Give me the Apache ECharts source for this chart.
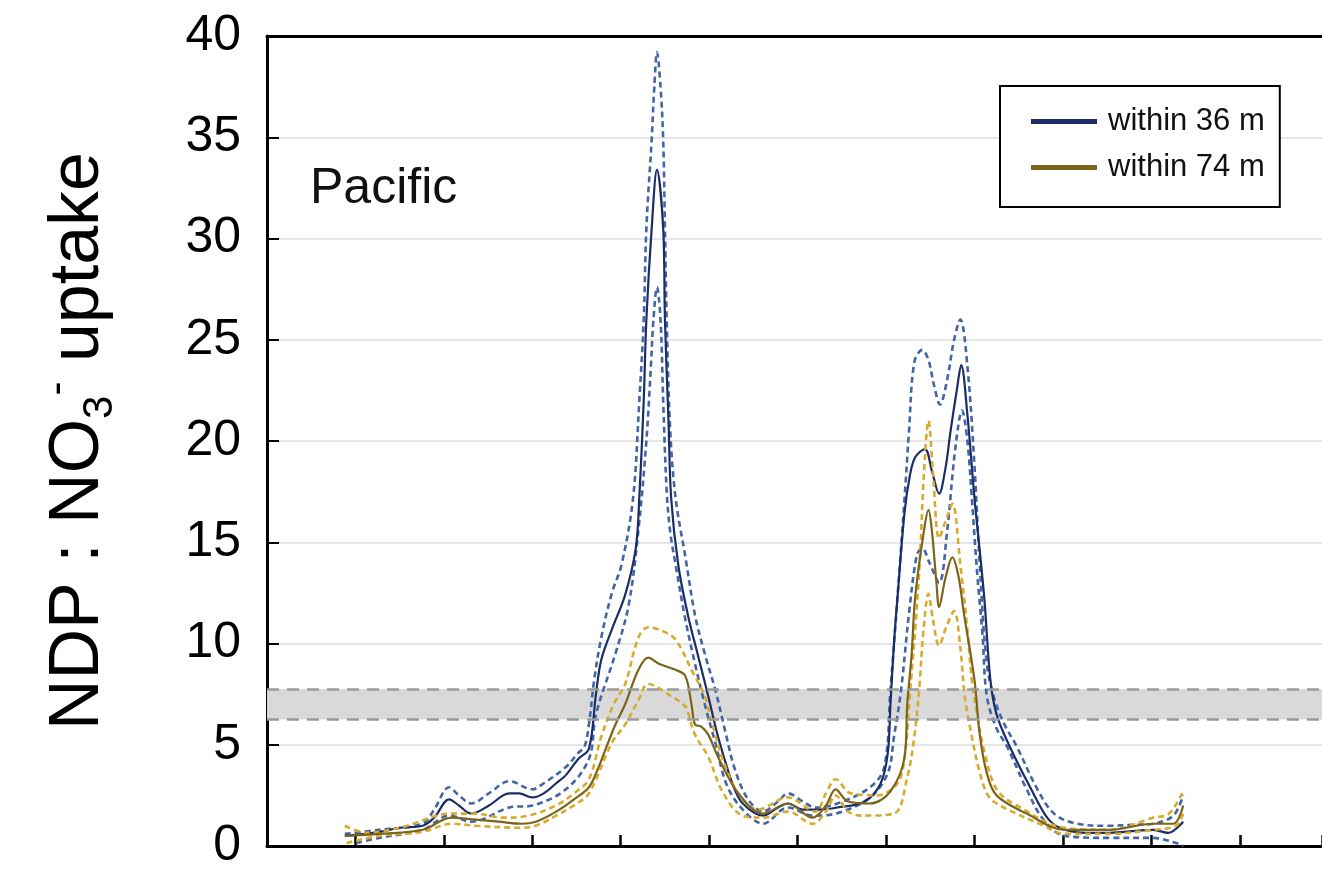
<!DOCTYPE html>
<html>
<head>
<meta charset="utf-8">
<script src="https://cdn.jsdelivr.net/npm/echarts/dist/echarts.min.js"></script>
<style>
  html, body { margin: 0; padding: 0; background: #fff; }
  #chart { width: 1322px; height: 871px; }
</style>
</head>
<body>
<div id="chart"></div>
<script>
// x is in arbitrary along-track units (one tick every 10), y is NDP : NO3- uptake
const yTicks = [0, 5, 10, 15, 20, 25, 30, 35, 40];
const band = [6.25, 7.75];

const mean36 = [[8.8,0.5],[12.7,0.7],[15.0,0.9],[17.6,1.0],[18.9,1.4],[20.6,2.3],[21.7,2.0],[23.1,1.6],[25.1,2.0],[27.4,2.6],[28.5,2.6],[30.0,2.4],[31.3,2.6],[32.7,3.1],[33.8,3.5],[35.2,4.3],[36.4,4.8],[37.2,7.5],[37.8,9.2],[39.0,10.7],[40.5,12.4],[41.7,14.7],[42.1,17.2],[42.6,22.0],[42.9,26.0],[43.5,30.5],[44.1,33.4],[44.8,30.5],[45.0,26.0],[45.4,21.0],[45.7,17.2],[46.5,13.9],[47.6,11.4],[48.8,9.3],[49.9,7.4],[51.0,5.4],[52.7,3.0],[53.8,2.1],[56.1,1.5],[57.8,1.9],[58.9,2.1],[60.6,1.8],[62.3,1.8],[64.5,1.9],[67.6,2.2],[69.4,3.1],[70.2,4.6],[70.5,7.0],[70.9,10.0],[71.3,12.3],[72.1,16.5],[72.7,18.3],[73.3,19.2],[74.4,19.6],[75.2,18.5],[76.0,17.4],[76.7,18.6],[77.3,20.5],[78.0,22.5],[78.5,23.75],[79.2,21.3],[80.0,17.2],[81.1,12.3],[81.8,8.2],[82.5,6.5],[84.0,4.9],[86.3,2.9],[88.4,1.3],[90.2,0.8],[92.7,0.65],[95.3,0.65],[98.3,0.75],[100.2,0.8],[101.9,0.65],[103.6,1.2]];
const upper36 = [[8.8,0.6],[12.7,0.8],[17.6,1.1],[18.9,1.8],[20.6,2.9],[21.7,2.5],[23.1,2.1],[25.1,2.6],[27.4,3.2],[30.0,2.8],[31.3,3.1],[33.8,3.9],[35.2,4.6],[35.9,4.9],[36.4,6.0],[37.0,8.2],[37.8,10.3],[39.0,12.5],[40.1,13.9],[41.4,17.2],[42.1,22.0],[42.6,26.0],[42.9,30.5],[43.5,34.9],[43.8,37.5],[44.1,39.2],[44.5,37.5],[44.8,34.9],[45.0,30.5],[45.2,26.0],[45.6,20.5],[46.2,17.2],[47.3,14.3],[48.4,11.4],[49.5,9.5],[50.7,7.7],[51.8,5.7],[52.9,3.8],[54.4,2.3],[56.1,1.7],[57.8,2.2],[58.9,2.6],[60.6,2.2],[62.0,1.9],[64.5,2.1],[68.2,2.9],[69.8,3.9],[70.5,7.7],[71.3,12.3],[72.1,17.2],[72.6,20.5],[73.2,23.9],[74.1,24.5],[74.8,24.0],[75.4,22.8],[76.1,21.8],[76.9,23.0],[77.7,25.0],[78.4,26.0],[79.2,23.7],[80.0,18.8],[80.6,13.9],[81.4,9.0],[82.3,7.2],[83.4,6.0],[84.8,4.9],[87.0,2.9],[89.0,1.6],[91.6,1.1],[95.0,1.0],[98.3,1.05],[100.2,1.1],[102.5,1.5],[103.6,2.5]];
const lower36 = [[10.1,0.15],[12.7,0.4],[17.6,0.8],[20.6,1.5],[23.1,1.2],[27.4,1.9],[30.0,2.0],[33.8,2.8],[36.4,4.3],[37.2,6.5],[39.4,9.5],[40.9,11.9],[42.0,15.6],[42.9,20.0],[43.4,23.6],[43.7,26.0],[44.1,27.6],[44.5,26.0],[44.8,22.0],[45.2,17.5],[45.6,15.5],[46.2,13.9],[47.3,11.2],[48.4,9.0],[49.5,7.0],[50.7,5.1],[52.0,3.0],[53.8,1.8],[56.1,1.1],[58.9,1.9],[61.7,1.5],[64.3,1.6],[68.2,2.4],[70.2,3.6],[70.9,5.4],[71.7,7.7],[72.6,11.5],[73.5,14.4],[74.1,14.7],[74.9,14.0],[76.0,13.0],[76.9,15.5],[77.8,19.5],[78.6,21.5],[79.2,20.0],[79.7,17.2],[80.3,13.5],[80.9,10.5],[81.4,7.4],[82.5,5.8],[83.7,4.9],[85.9,2.8],[87.8,1.3],[90.2,0.5],[95.3,0.4],[100.2,0.4],[102.8,0.15],[103.6,0.0]];

const mean74 = [[8.8,0.5],[12.7,0.6],[17.6,0.8],[20.9,1.4],[23.6,1.3],[26.2,1.2],[28.8,1.1],[30.4,1.2],[32.7,1.7],[34.7,2.3],[36.4,2.9],[37.5,3.9],[38.3,4.8],[39.4,6.0],[40.5,7.0],[42.0,8.7],[43.1,9.3],[44.3,9.0],[46.2,8.7],[47.3,8.4],[48.0,7.0],[48.4,6.0],[49.1,5.9],[49.9,5.5],[51.0,4.4],[53.3,2.6],[56.1,1.6],[58.9,2.1],[61.7,1.4],[63.2,2.0],[64.3,2.8],[65.7,2.2],[68.2,2.1],[70.5,2.7],[72.1,4.4],[72.4,7.0],[72.9,9.5],[73.3,12.3],[74.3,15.6],[74.8,16.6],[75.2,15.5],[75.7,13.0],[76.0,11.8],[76.7,13.2],[77.5,14.25],[78.2,13.3],[78.8,11.5],[80.0,8.2],[80.6,5.5],[81.4,3.6],[82.5,2.5],[85.9,1.6],[90.2,0.8],[95.3,0.8],[100.2,1.1],[102.5,1.1],[103.6,2.0]];
const upper74 = [[8.8,1.0],[11.3,0.65],[15.0,0.9],[20.9,1.6],[23.6,1.6],[26.6,1.4],[29.6,1.5],[32.7,2.0],[34.7,2.6],[36.4,3.3],[37.8,5.4],[39.2,7.0],[40.5,8.0],[42.0,10.3],[43.1,10.8],[44.8,10.6],[46.2,10.2],[48.0,8.7],[49.5,7.4],[50.5,5.8],[51.6,4.2],[53.3,2.6],[55.5,1.8],[58.9,2.4],[62.0,1.7],[63.2,2.6],[64.3,3.3],[66.0,2.6],[69.0,2.5],[71.3,3.1],[72.1,4.4],[72.7,7.5],[73.3,10.7],[73.8,13.9],[74.3,18.5],[74.8,21.0],[75.3,18.5],[76.0,15.2],[76.7,16.0],[77.5,16.9],[78.4,13.9],[79.2,10.7],[79.7,8.2],[80.3,6.5],[81.1,4.7],[82.5,2.8],[84.8,2.0],[90.2,0.9],[95.3,0.8],[100.2,1.4],[102.0,1.6],[103.6,2.7]];
const lower74 = [[9.0,0.15],[12.7,0.5],[17.6,0.7],[20.9,1.1],[23.6,1.0],[28.8,0.9],[30.4,1.0],[32.7,1.5],[34.7,2.0],[36.4,2.6],[39.0,5.1],[40.5,6.0],[42.0,7.2],[43.1,8.0],[45.7,7.4],[47.3,6.9],[47.6,6.6],[48.4,5.5],[49.9,4.4],[51.6,2.6],[53.8,1.5],[56.1,1.4],[58.9,1.7],[61.7,1.1],[63.2,1.7],[64.3,2.5],[65.7,1.7],[67.1,1.5],[70.9,1.6],[72.4,3.4],[73.2,5.4],[73.8,8.0],[74.2,10.5],[74.8,12.45],[75.3,11.2],[76.0,9.9],[76.8,10.8],[77.7,11.6],[78.4,9.8],[78.9,7.4],[79.7,5.4],[80.5,3.8],[81.4,2.6],[82.5,2.1],[87.8,1.0],[90.2,0.6],[95.3,0.6],[100.2,0.8],[102.8,1.0],[103.6,1.6]];

const FONT = '"Liberation Sans", Arial, Helvetica, sans-serif';
const NAVY = '#1b2c66', NAVY_DASH = '#4266a3';
const GOLD = '#7c6419', GOLD_DASH = '#d8ab2c';

function line(name, data, color, dashed) {
  return {
    name: name,
    type: 'line',
    data: data,
    smooth: 0.35,
    showSymbol: false,
    symbol: 'none',
    z: 3,
    itemStyle: { color: color },
    lineStyle: {
      color: color,
      width: dashed ? 2.6 : 2.2,
      type: dashed ? [6, 4] : 'solid'
    }
  };
}

const chart = echarts.init(document.getElementById('chart'));
chart.setOption({
  animation: false,
  textStyle: { fontFamily: FONT },
  grid: { left: 267, right: -4, top: 36, bottom: 19 },
  title: {
    text: 'Pacific',
    left: 310,
    top: 164,
    padding: 0,
    textStyle: { fontFamily: FONT, fontSize: 50, fontWeight: 'normal', color: '#111' }
  },
  legend: {
    data: ['within 36 m', 'within 74 m'],
    orient: 'vertical',
    left: 1000,
    top: 86,
    padding: [20, 15, 24, 31],
    itemGap: 15,
    itemWidth: 66,
    itemHeight: 5,
    icon: 'rect',
    borderColor: '#000',
    borderWidth: 2,
    backgroundColor: '#fff',
    textStyle: { fontFamily: FONT, fontSize: 31, color: '#111', padding: [0, 0, 0, 6] }
  },
  xAxis: [{
    type: 'value',
    min: 0,
    max: 119.3,
    interval: 10,
    axisLine: { lineStyle: { color: '#000', width: 3 } },
    axisTick: { inside: true, length: 11, lineStyle: { color: '#000', width: 2.5 } },
    axisLabel: { show: false },
    splitLine: { show: false }
  }, {
    type: 'value',
    position: 'top',
    min: 0,
    max: 119.3,
    axisLine: { show: true, onZero: false, lineStyle: { color: '#000', width: 3 } },
    axisTick: { show: false },
    axisLabel: { show: false },
    splitLine: { show: false }
  }],
  yAxis: {
    type: 'value',
    min: yTicks[0],
    max: yTicks[yTicks.length - 1],
    interval: 5,
    name: '{t|NDP : NO}{s|3}{p|-}{t| uptake}',
    nameLocation: 'middle',
    nameGap: 146,
    nameTextStyle: {
      color: '#000',
      rich: {
        t: { fontFamily: FONT, fontSize: 70, lineHeight: 84, color: '#000' },
        s: { fontFamily: FONT, fontSize: 42, lineHeight: 42, verticalAlign: 'bottom', color: '#000' },
        p: { fontFamily: FONT, fontSize: 42, lineHeight: 42, verticalAlign: 'top', color: '#000' }
      }
    },
    axisLine: { show: true, lineStyle: { color: '#000', width: 3 } },
    axisTick: { inside: true, length: 12, lineStyle: { color: '#000', width: 2 } },
    axisLabel: { fontFamily: FONT, fontSize: 50, color: '#000', margin: 26 },
    splitLine: { lineStyle: { color: '#dcdcdc', width: 1.5 } }
  },
  series: [
    {
      name: 'band',
      type: 'line',
      data: [],
      z: 1,
      markArea: {
        silent: true,
        itemStyle: { color: '#d9d9d9' },
        data: [[{ yAxis: band[0] }, { yAxis: band[1] }]]
      },
      markLine: {
        silent: true,
        symbol: 'none',
        label: { show: false },
        lineStyle: { color: '#9a9a9a', width: 2.5, type: [12, 8] },
        data: [{ yAxis: band[0] }, { yAxis: band[1] }]
      }
    },
    line('upper36', upper36, NAVY_DASH, true),
    line('lower36', lower36, NAVY_DASH, true),
    line('within 36 m', mean36, NAVY, false),
    line('upper74', upper74, GOLD_DASH, true),
    line('lower74', lower74, GOLD_DASH, true),
    line('within 74 m', mean74, GOLD, false)
  ]
});
</script>
</body>
</html>
